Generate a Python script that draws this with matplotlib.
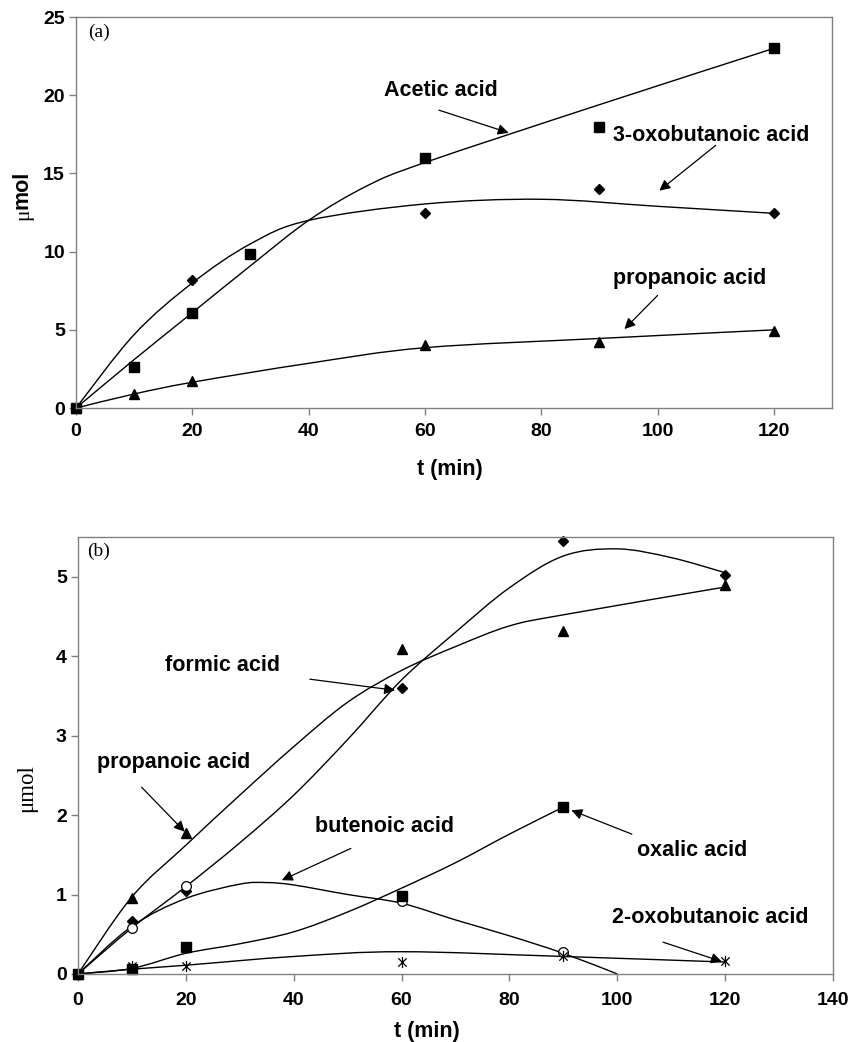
import matplotlib
matplotlib.use('Agg')
import matplotlib.pyplot as plt
from matplotlib.path import Path
from matplotlib.patches import PathPatch

# ---- panel (a) data: measured points ----
t_acetic = [0, 10, 20, 30, 60, 90, 120]
acetic = [0, 2.6, 6.1, 9.85, 16.0, 18.0, 23.0]
t_oxo3 = [0, 20, 60, 90, 120]
oxo3 = [0, 8.2, 12.5, 14.0, 12.5]
t_prop_a = [0, 10, 20, 60, 90, 120]
prop_a = [0, 0.9, 1.7, 4.0, 4.25, 4.9]

# ---- panel (a) fitted curves ----
fit_acetic_t = [0, 10, 20, 30, 40, 50, 60, 90, 120]
fit_acetic = [0, 3.1, 6.1, 9.1, 12.0, 14.2, 15.7, 19.4, 23.0]
fit_oxo3_t = [0, 10, 20, 30, 40, 60, 80, 100, 120]
fit_oxo3 = [0, 4.7, 8.0, 10.5, 12.0, 13.05, 13.35, 12.9, 12.45]
fit_prop_a_t = [0, 10, 20, 40, 60, 90, 120]
fit_prop_a = [0, 0.9, 1.65, 2.86, 3.86, 4.45, 5.0]

# ---- panel (b) data: measured points ----
t_formic = [0, 10, 20, 60, 90, 120]
formic = [0, 0.67, 1.04, 3.6, 5.45, 5.02]
t_prop_b = [0, 10, 20, 60, 90, 120]
prop_b = [0, 0.96, 1.77, 4.09, 4.31, 4.89]
t_buten = [0, 10, 20, 60, 90]
buten = [0, 0.58, 1.11, 0.92, 0.28]
t_oxalic = [0, 10, 20, 60, 90]
oxalic = [0, 0.06, 0.34, 0.98, 2.1]
t_oxo2 = [0, 10, 20, 60, 90, 120]
oxo2 = [0, 0.1, 0.1, 0.15, 0.23, 0.16]

# ---- panel (b) fitted curves ----
fit_formic_t = [0, 10, 20, 30, 40, 50, 60, 70, 80, 90, 100, 110, 120]
fit_formic = [0, 0.58, 1.1, 1.65, 2.25, 2.95, 3.7, 4.3, 4.86, 5.26, 5.35, 5.24, 5.05]
fit_prop_b_t = [0, 10, 20, 30, 40, 50, 60, 70, 80, 90, 120]
fit_prop_b = [0, 0.97, 1.62, 2.25, 2.86, 3.42, 3.82, 4.12, 4.38, 4.52, 4.87]
fit_buten_t = [0, 10, 20, 30, 35, 40, 50, 60, 70, 80, 90, 100]
fit_buten = [0, 0.6, 0.95, 1.13, 1.15, 1.12, 1.0, 0.89, 0.68, 0.48, 0.26, 0.0]
fit_oxalic_t = [0, 10, 20, 30, 40, 50, 60, 70, 80, 90]
fit_oxalic = [0, 0.07, 0.26, 0.38, 0.53, 0.78, 1.08, 1.4, 1.76, 2.1]
fit_oxo2_t = [0, 10, 20, 40, 60, 90, 120]
fit_oxo2 = [0, 0.06, 0.11, 0.22, 0.28, 0.22, 0.15]

SANS = 'Liberation Sans'
SERIF = 'Liberation Serif'
W, H = 856, 1042

# Excel style asterisk: x with a vertical bar
asterisk = Path([(0, -1), (0, 1), (-0.75, -0.75), (0.75, 0.75), (-0.75, 0.75), (0.75, -0.75)],
                [Path.MOVETO, Path.LINETO] * 3)


def smooth_curve(ax, xs, ys):
    """Draw a smoothed line through the knots (Catmull-Rom as cubic beziers)."""
    pts = list(zip(xs, ys))
    verts = [pts[0]]
    codes = [Path.MOVETO]
    for i in range(len(pts) - 1):
        p0 = pts[i - 1] if i > 0 else pts[i]
        p1 = pts[i]
        p2 = pts[i + 1]
        p3 = pts[i + 2] if i + 2 < len(pts) else p2
        c1 = (p1[0] + (p2[0] - p0[0]) / 6, p1[1] + (p2[1] - p0[1]) / 6)
        c2 = (p2[0] - (p3[0] - p1[0]) / 6, p2[1] - (p3[1] - p1[1]) / 6)
        verts += [c1, c2, p2]
        codes += [Path.CURVE4] * 3
    ax.add_patch(PathPatch(Path(verts, codes), fill=False, lw=1.0, ec='black'))


def label(ax, text, xy_text, xy_tail, xy_head):
    ax.text(*xy_text, text, family=SANS, fontweight='bold', fontsize=15.5,
            ha='left', va='center')
    ax.annotate('', xy=xy_head, xytext=xy_tail,
                arrowprops=dict(arrowstyle='-|>', color='black', lw=0.9,
                                mutation_scale=16, shrinkA=0, shrinkB=0))


def style(ax):
    for s in ax.spines.values():
        s.set_color('#808080')
        s.set_linewidth(1.0)
    ax.tick_params(direction='out', length=5, width=1.0, color='#808080')
    ax.tick_params(axis='x', pad=6)
    ax.tick_params(axis='y', pad=3)
    for lab in ax.get_xticklabels() + ax.get_yticklabels():
        lab.set_family(SANS)
        lab.set_fontweight('bold')
        lab.set_fontsize(14)


def fig_text(x, y, s, **kw):
    # place text at pixel position measured from the top-left corner
    fig.text(x / W, 1 - y / H, s, **kw)


fig = plt.figure(figsize=(8.56, 10.42), dpi=100)

# ---------------- panel (a) ----------------
ax1 = fig.add_axes([0.0888, 0.6084, 0.8832, 0.3752])
smooth_curve(ax1, fit_acetic_t, fit_acetic)
smooth_curve(ax1, fit_oxo3_t, fit_oxo3)
smooth_curve(ax1, fit_prop_a_t, fit_prop_a)
ax1.plot(t_acetic, acetic, 's', color='black', ms=7.5, ls='none', clip_on=False)
ax1.plot(t_oxo3, oxo3, 'D', color='black', ms=5, ls='none', clip_on=False)
ax1.plot(t_prop_a, prop_a, '^', color='black', ms=7, ls='none', clip_on=False)
ax1.set_xlim(0, 130)
ax1.set_ylim(0, 25)
ax1.set_xticks(range(0, 121, 20))
ax1.set_yticks(range(0, 26, 5))
style(ax1)
ax1.text(2.1, 24.0, '(a)', family=SERIF, fontsize=14, ha='left', va='center')

label(ax1, 'Acetic acid', (53.0, 20.3), (62.4, 19.05), (74.4, 17.6))
label(ax1, '3-oxobutanoic acid', (92.3, 17.4), (110.0, 16.8), (100.3, 13.9))
label(ax1, 'propanoic acid', (92.3, 8.3), (100.0, 7.2), (94.3, 5.05))

# axis titles of (a)
fig_text(450, 469, 't (min)', family=SANS, fontweight='bold', fontsize=15.5,
         ha='center', va='center')
fig_text(28, 220, 'μ', family=SERIF, fontsize=15.5, rotation=90,
         rotation_mode='anchor', ha='left', va='baseline')
fig_text(28, 209, 'mol', family=SANS, fontweight='bold', fontsize=15.5, rotation=90,
         rotation_mode='anchor', ha='left', va='baseline')

# ---------------- panel (b) ----------------
ax2 = fig.add_axes([0.0911, 0.0653, 0.882, 0.4194])
smooth_curve(ax2, fit_formic_t, fit_formic)
smooth_curve(ax2, fit_prop_b_t, fit_prop_b)
smooth_curve(ax2, fit_buten_t, fit_buten)
smooth_curve(ax2, fit_oxalic_t, fit_oxalic)
smooth_curve(ax2, fit_oxo2_t, fit_oxo2)
ax2.plot(t_formic, formic, 'D', color='black', ms=5, ls='none', clip_on=False)
ax2.plot(t_prop_b, prop_b, '^', color='black', ms=7, ls='none', clip_on=False)
ax2.plot(t_buten, buten, 'o', mfc='white', mec='black', mew=0.9, ms=7, ls='none', clip_on=False)
ax2.plot(t_oxalic, oxalic, 's', color='black', ms=7.5, ls='none', clip_on=False)
ax2.plot(t_oxo2, oxo2, marker=asterisk, color='black', ms=8, mew=0.9, ls='none', clip_on=False)
ax2.set_xlim(0, 140)
ax2.set_ylim(0, 5.5)
ax2.set_xticks(range(0, 141, 20))
ax2.set_yticks(range(0, 6))
style(ax2)
ax2.tick_params(axis='x', pad=8)
ax2.text(1.7, 5.32, '(b)', family=SERIF, fontsize=14, ha='left', va='center')

label(ax2, 'formic acid', (16.1, 3.88), (43.0, 3.71), (58.8, 3.57))
label(ax2, 'propanoic acid', (3.5, 2.66), (11.8, 2.35), (19.8, 1.79))
label(ax2, 'butenoic acid', (43.9, 1.85), (50.6, 1.58), (37.8, 1.18))
label(ax2, 'oxalic acid', (103.7, 1.55), (102.7, 1.76), (91.5, 2.06))
label(ax2, '2-oxobutanoic acid', (99.1, 0.71), (108.5, 0.40), (119.4, 0.155))

# axis titles of (b)
fig_text(427, 1031, 't (min)', family=SANS, fontweight='bold', fontsize=15.5,
         ha='center', va='center')
fig_text(27, 788, 'μmol', family=SERIF, fontsize=16.5, rotation=90,
         ha='center', va='center')

fig.savefig('out.png', dpi=100)
